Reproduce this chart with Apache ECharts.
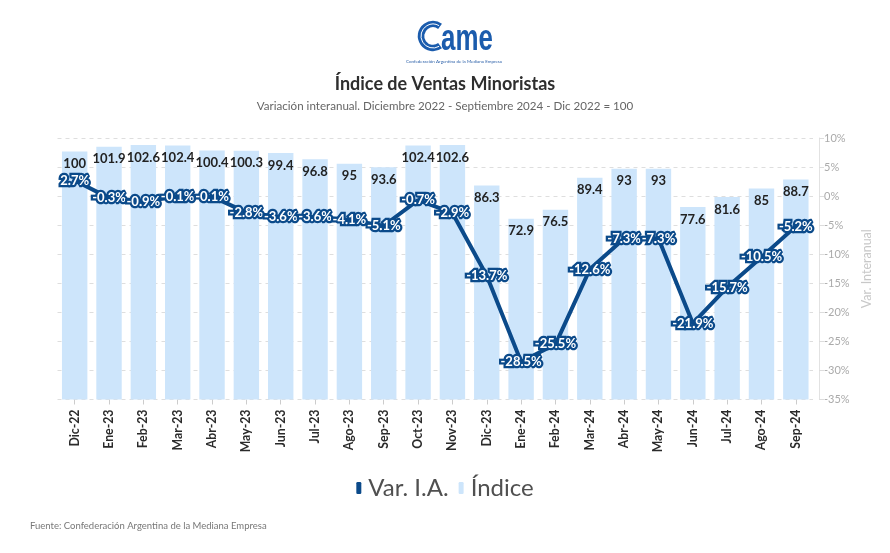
<!DOCTYPE html>
<html>
<head>
<meta charset="utf-8">
<script src="https://cdn.jsdelivr.net/npm/echarts@6/dist/echarts.min.js"></script>
<style>
html,body{margin:0;padding:0;background:#fff;}
#c{width:890px;height:553px;}
</style>
</head>
<body>
<div id="c"></div>
<script>
const categories = ['Dic-22','Ene-23','Feb-23','Mar-23','Abr-23','May-23','Jun-23','Jul-23','Ago-23','Sep-23','Oct-23','Nov-23','Dic-23','Ene-24','Feb-24','Mar-24','Abr-24','May-24','Jun-24','Jul-24','Ago-24','Sep-24'];
const indice = [100, 101.9, 102.6, 102.4, 100.4, 100.3, 99.4, 96.8, 95, 93.6, 102.4, 102.6, 86.3, 72.9, 76.5, 89.4, 93, 93, 77.6, 81.6, 85, 88.7];
const varIA = [2.7, -0.3, -0.9, -0.1, -0.1, -2.8, -3.6, -3.6, -4.1, -5.1, -0.7, -2.9, -13.7, -28.5, -25.5, -12.6, -7.3, -7.3, -21.9, -15.7, -10.5, -5.2];

const FONT = 'Lato';
const DARK = '#0b4a8a';
const LIGHT = '#cde5fb';

const chart = echarts.init(document.getElementById('c'));
chart.setOption({
  animation: false,
  backgroundColor: '#fff',
  textStyle: { fontFamily: FONT },
  title: [
    { text: 'Índice de Ventas Minoristas', left: 'center', top: 70,
      textStyle: { fontFamily: FONT, fontSize: 18, fontWeight: 'bold', color: '#2e2e2e' } },
    { text: 'Variación interanual. Diciembre 2022 - Septiembre 2024 - Dic 2022 = 100', left: 'center', top: 95,
      textStyle: { fontFamily: FONT, fontSize: 11.6, fontWeight: 'normal', color: '#666' } },
    { text: 'Fuente: Confederación Argentina de la Mediana Empresa', left: 25, top: 516,
      textStyle: { fontFamily: FONT, fontSize: 9.5, fontWeight: 'normal', color: '#777' } }
  ],
  graphic: [
    { type: 'arc', shape: { cx: 433, cy: 36, r: 12, startAngle: Math.PI * 0.3, endAngle: Math.PI * 1.7, clockwise: true },
      style: { stroke: '#1b5cad', lineWidth: 6.5, fill: null } },
    { type: 'arc', shape: { cx: 433, cy: 36, r: 12, startAngle: Math.PI * 0.33, endAngle: Math.PI * 1.67, clockwise: true },
      style: { stroke: '#fff', lineWidth: 1, fill: null } },
    { type: 'text', x: 441, y: 21, scaleX: 0.72, scaleY: 1.05,
      style: { text: 'ame', font: 'bold 36px "Liberation Sans"', fill: '#1b5cad' } },
    { type: 'text', x: 454, y: 62,
      style: { text: 'Confederación Argentina de la Mediana Empresa', font: '4.5px Lato', fill: '#2a5fa8', align: 'center', verticalAlign: 'middle' } }
  ],
  legend: {
    data: ['Var. I.A.', 'Índice'],
    left: 'center', top: 471,
    icon: 'roundRect', itemWidth: 5, itemHeight: 12, itemGap: 10,
    textStyle: { fontFamily: FONT, fontSize: 24, color: '#505050', padding: [0, 0, 0, 2] }
  },
  grid: { left: 57.5, right: 77, top: 138, bottom: 153.5 },
  xAxis: {
    type: 'category', data: categories,
    axisLine: { show: false },
    axisTick: { show: true, alignWithLabel: true, length: 5, lineStyle: { color: '#ccc' } },
    axisLabel: { rotate: 90, interval: 0, margin: 10, fontFamily: FONT, fontSize: 12.3, fontWeight: 'bold', color: '#2b2b2b' }
  },
  yAxis: [
    { type: 'value', min: 0, max: 105.4, show: false, splitLine: { show: false } },
    { type: 'value', position: 'right', offset: 6, min: -35, max: 10, interval: 5,
      name: 'Var. Interanual', nameLocation: 'middle', nameGap: 40, nameRotate: 90,
      nameTextStyle: { fontFamily: FONT, fontSize: 12.5, color: '#c8c8c8' },
      axisLine: { show: true, lineStyle: { color: '#e2e2e2' } },
      axisTick: { show: true, length: 5, lineStyle: { color: '#ddd' } },
      axisLabel: { formatter: '{value}%', fontFamily: FONT, fontSize: 11, color: '#aaa', margin: 5 },
      splitLine: { show: true, lineStyle: { color: '#dedede', type: [4, 4] } }
    }
  ],
  series: [
    { name: 'Índice', type: 'bar', yAxisIndex: 0, data: indice, barWidth: '74%',
      itemStyle: { color: LIGHT },
      label: { show: true, position: 'insideTop', distance: 6, fontFamily: FONT, fontSize: 13, fontWeight: 'bold', color: '#222' },
      z: 1 },
    { name: 'Var. I.A.', type: 'line', yAxisIndex: 1, data: varIA,
      lineStyle: { color: DARK, width: 4 }, itemStyle: { color: DARK },
      symbol: 'circle', symbolSize: 2, showSymbol: true,
      label: { show: true, position: 'inside', formatter: p => p.value + '%',
        fontFamily: FONT, fontSize: 13, fontWeight: 'bold', color: '#fff',
        textBorderColor: DARK, textBorderWidth: 4.5 },
      z: 3 }
  ]
});
</script>
</body>
</html>
